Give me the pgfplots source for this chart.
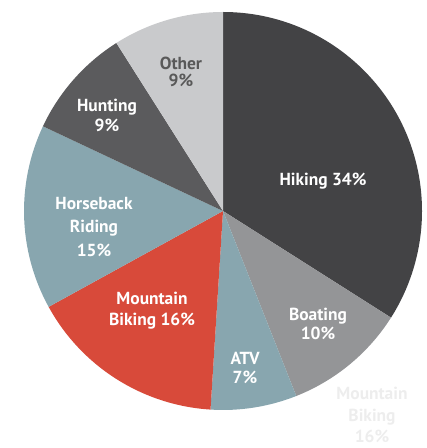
\documentclass[border=0pt]{standalone}
\usepackage{pgfplots}
\usepackage{pgfplotstable}
\pgfplotsset{compat=1.18}
\usepackage{fontspec}
\setmainfont{PT Sans}
\definecolor{cHiking}{HTML}{434345}
\definecolor{cBoating}{HTML}{949597}
\definecolor{cATV}{HTML}{88A6AF}
\definecolor{cMtb}{HTML}{D84A3A}
\definecolor{cHorse}{HTML}{88A6AF}
\definecolor{cHunting}{HTML}{5B5B5D}
\definecolor{cOther}{HTML}{C9CACC}
\pgfplotstableread{
name value color
Hiking 34 cHiking
Boating 10 cBoating
ATV 7 cATV
MountainBiking 16 cMtb
HorsebackRiding 15 cHorse
Hunting 9 cHunting
Other 9 cOther
}\piedata
\begin{document}
\begin{tikzpicture}
\begin{axis}[
  scale only axis, width=427bp, height=448bp,
  xmin=-1.1206, xmax=1.0251, ymin=-1.1910, ymax=1.0603,
  hide axis, clip=false,
]
\path (rel axis cs:0,0) rectangle (rel axis cs:1,1);
\pgfplotstablegetrowsof{\piedata}
\pgfmathtruncatemacro{\nrows}{\pgfplotsretval-1}
\gdef\curangle{90}
\pgfplotsforeachungrouped \i in {0,...,\nrows}{%
  \pgfplotstablegetelem{\i}{value}\of{\piedata}\let\v\pgfplotsretval
  \pgfplotstablegetelem{\i}{color}\of{\piedata}\let\c\pgfplotsretval
  \pgfmathsetmacro{\endangle}{\curangle-3.6*\v}
  \edef\temp{\noexpand\fill[\c] (axis cs:0,0) -- (axis cs:{cos(\curangle)},{sin(\curangle)}) arc[start angle=\curangle, end angle=\endangle, radius=199bp] -- cycle;}
  \temp
  \xdef\curangle{\endangle}
}
\tikzset{lab/.style={text=white, font=\fontsize{17.5}{19}\selectfont\bfseries, inner sep=0pt, anchor=center}}
\node[lab] at (axis cs:0.5025,0.1508) {Hiking 34\%};
\node[lab] at (axis cs:0.4774,-0.5276) {Boating};
\node[lab] at (axis cs:0.4774,-0.6131) {10\%};
\node[lab] at (axis cs:0.1106,-0.7387) {ATV};
\node[lab] at (axis cs:0.1106,-0.8342) {7\%};
\node[lab] at (axis cs:-0.3568,-0.4372) {Mountain};
\node[lab] at (axis cs:-0.3568,-0.5528) {Biking 16\%};
\node[lab] at (axis cs:-0.6482,0.0352) {Horseback};
\node[lab] at (axis cs:-0.6482,-0.0854) {Riding};
\node[lab] at (axis cs:-0.6482,-0.1960) {15\%};
\node[lab] at (axis cs:-0.5829,0.5226) {Hunting};
\node[lab] at (axis cs:-0.5829,0.4322) {9\%};
\node[lab, text=black!65] at (axis cs:-0.2111,0.7437) {Other};
\node[lab, text=black!65] at (axis cs:-0.2111,0.6583) {9\%};
\node[lab, text=black!7] at (axis cs:0.7487,-0.9146) {Mountain};
\node[lab, text=black!7] at (axis cs:0.7487,-1.035) {Biking};
\node[lab, text=black!7] at (axis cs:0.7487,-1.1307) {16\%};
\end{axis}
\end{tikzpicture}
\end{document}
